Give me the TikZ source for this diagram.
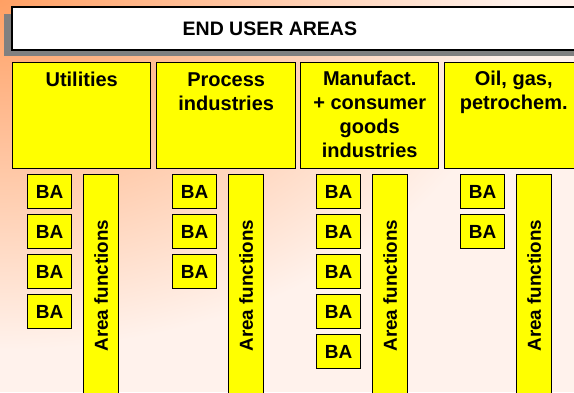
\documentclass[tikz,border=0pt]{standalone}
\usepackage{fontspec}
\setmainfont{Liberation Sans}
\definecolor{bgorange}{RGB}{255,160,100}
\definecolor{bgmid}{RGB}{255,242,236}
\definecolor{yellowbox}{RGB}{255,255,0}
\definecolor{shadowgray}{RGB}{128,128,128}
\begin{document}
\begin{tikzpicture}[x=1pt,y=-1pt,
  bx/.style={draw=black, line width=1.4pt, fill=yellowbox, inner sep=0pt, anchor=north west},
  ba/.style={bx, minimum width=44pt, minimum height=34pt, font=\fontsize{19}{20}\selectfont\bfseries},
  af/.style={bx, minimum width=35pt, minimum height=222pt, font=\fontsize{18.8}{20}\selectfont\bfseries},
  head/.style={bx, font=\fontsize{20}{24}\selectfont\bfseries}]
\useasboundingbox (0,0) rectangle (574,392);
\begin{scope}
  \clip (0,0) rectangle (574,392);
  \fill[bgmid] (0,0) rectangle (574,392);
  \shade[inner color=bgorange, outer color=bgmid] (-520,-350) rectangle (520,350);
\end{scope}
% title
\fill[shadowgray] (4,14) rectangle (620,56);
\node[draw=black, line width=1.8pt, fill=white, anchor=north west, inner sep=0pt,
      minimum height=43pt, font=\fontsize{19.5}{24}\selectfont\bfseries] (title) at (11,6)
      {\makebox[610pt][l]{\makebox[516pt]{END USER AREAS}}};
% headings
\node[head] (h1) at (12,62) {\parbox[c][106pt][t]{138pt}{\centering\rule{0pt}{24pt}Utilities}};
\node[head] (h2) at (156,62) {\parbox[c][106pt][t]{139pt}{\centering\rule{0pt}{24pt}Process\\industries}};
\node[head] (h3) at (300,62) {\parbox[c][106pt][t]{138pt}{\centering\rule{0pt}{23pt}Manufact.\\+ consumer\\goods\\industries}};
\node[head] (h4) at (444,62) {\parbox[c][106pt][t]{138pt}{\centering\rule{0pt}{23pt}Oil, gas,\\petrochem.}};
% column 1
\foreach \i in {0,...,3} \node[ba] (ba1\i) at (27,174+40*\i) {BA};
\node[af] (af1) at (83,174) {\rotatebox{90}{Area functions}};
% column 2
\foreach \i in {0,...,2} \node[ba] (ba2\i) at (172,174+40*\i) {BA};
\node[af] (af2) at (228,174) {\rotatebox{90}{Area functions}};
% column 3
\foreach \i in {0,...,4} \node[ba] (ba3\i) at (316,174+40*\i) {BA};
\node[af] (af3) at (372,174) {\rotatebox{90}{Area functions}};
% column 4
\foreach \i in {0,...,1} \node[ba] (ba4\i) at (460,174+40*\i) {BA};
\node[af] (af4) at (516,174) {\rotatebox{90}{Area functions}};
\end{tikzpicture}
\end{document}
